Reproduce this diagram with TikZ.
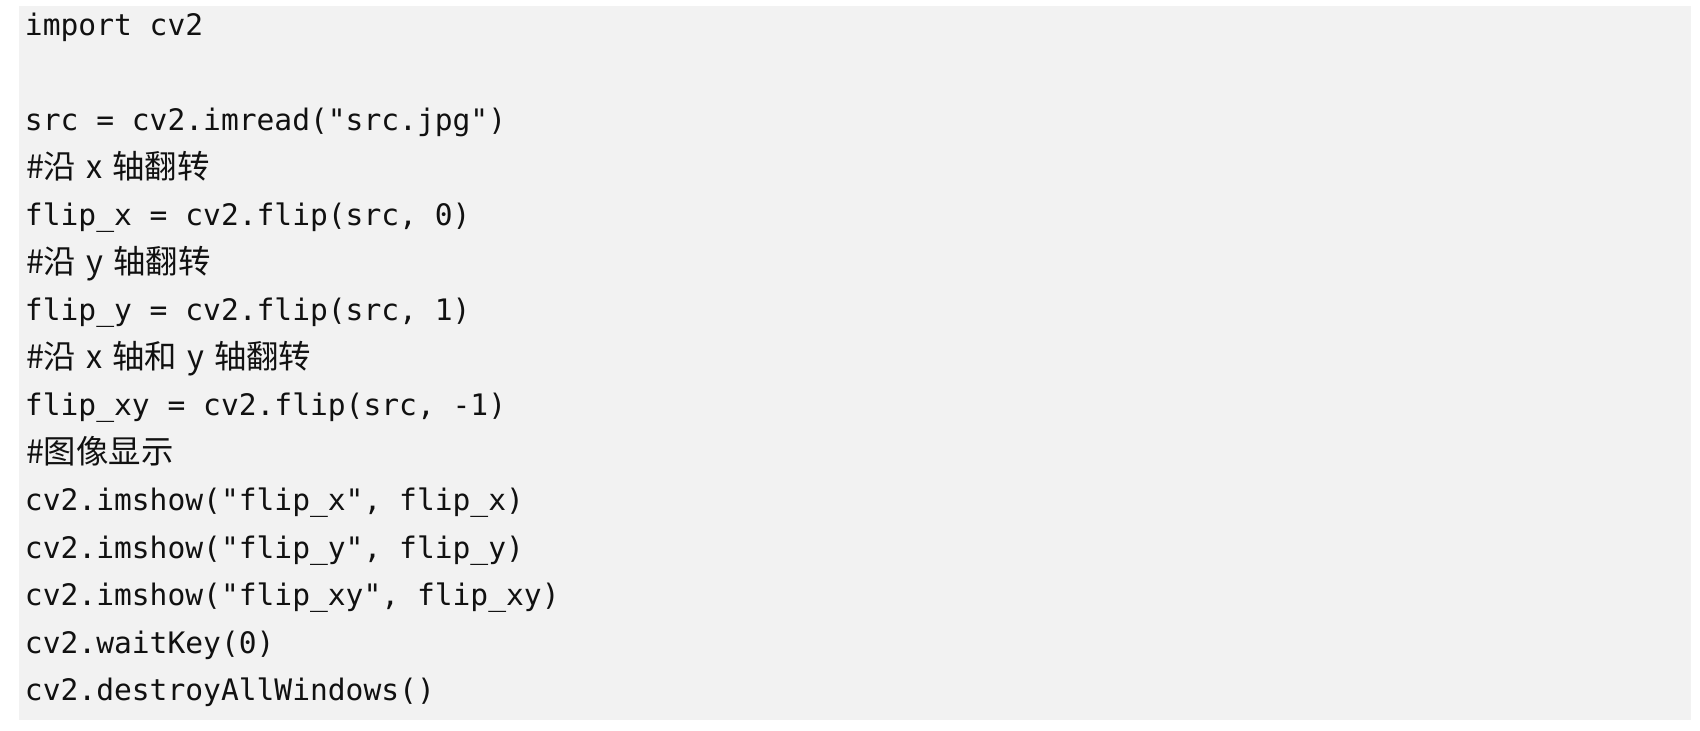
\documentclass[tikz,border=0pt]{standalone}
\usepackage{fontspec}
\newfontfamily\codefont{DejaVu Sans Mono}
\newfontfamily\cjkfont{Noto Sans CJK SC}
\definecolor{codebg}{HTML}{F2F2F2}
\definecolor{codefg}{HTML}{111111}
\newcommand\cjksp{\hspace{5pt}}
\begin{document}
\begin{tikzpicture}[x=0.5pt,y=-0.5pt,
  codeline/.style={anchor=base west,inner sep=0pt,outer sep=0pt,text=codefg,font=\codefont\fontsize{14.8pt}{18pt}\selectfont},
  cmtline/.style={anchor=base west,inner sep=0pt,outer sep=0pt,text=codefg,font=\cjkfont\fontsize{16.2pt}{18pt}\selectfont}]
\useasboundingbox (0,0) rectangle (1700,730);
\fill[codebg] (19,6) rectangle (1691,720);
\def\lp{47.55}
\node[codeline] (l1) at (25,35) {import cv2};
\node[codeline] (l3) at (25,35+2*\lp) {src = cv2.imread("src.jpg")};
\node[cmtline] (l4) at (26,36+3*\lp) {\#沿\cjksp x\cjksp 轴翻转};
\node[codeline] (l5) at (25,35+4*\lp) {flip\_x = cv2.flip(src, 0)};
\node[cmtline] (l6) at (26,36+5*\lp) {\#沿\cjksp y\cjksp 轴翻转};
\node[codeline] (l7) at (25,35+6*\lp) {flip\_y = cv2.flip(src, 1)};
\node[cmtline] (l8) at (26,36+7*\lp) {\#沿\cjksp x\cjksp 轴和\cjksp y\cjksp 轴翻转};
\node[codeline] (l9) at (25,35+8*\lp) {flip\_xy = cv2.flip(src, -1)};
\node[cmtline] (l10) at (26,36+9*\lp) {\#图像显示};
\node[codeline] (l11) at (25,35+10*\lp) {cv2.imshow("flip\_x", flip\_x)};
\node[codeline] (l12) at (25,35+11*\lp) {cv2.imshow("flip\_y", flip\_y)};
\node[codeline] (l13) at (25,35+12*\lp) {cv2.imshow("flip\_xy", flip\_xy)};
\node[codeline] (l14) at (25,35+13*\lp) {cv2.waitKey(0)};
\node[codeline] (l15) at (25,35+14*\lp) {cv2.destroyAllWindows()};
\end{tikzpicture}
\end{document}
